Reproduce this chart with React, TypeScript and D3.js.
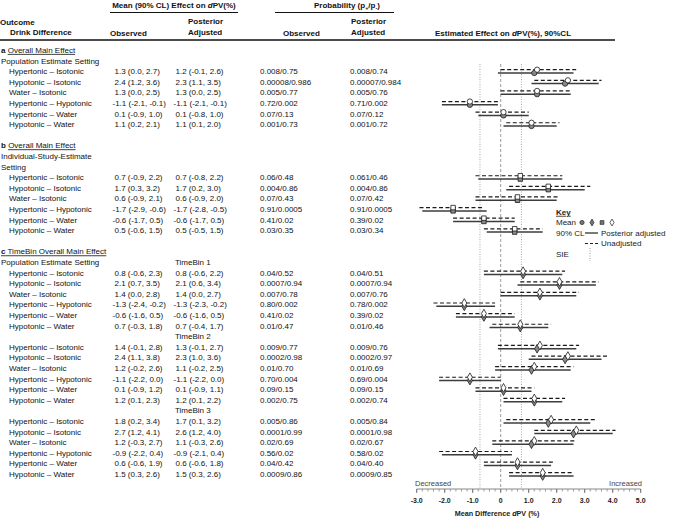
import React from "react";
import * as d3 from "d3";

const comparisons = [
  "Hypertonic – Isotonic",
  "Hypotonic – Isotonic",
  "Water – Isotonic",
  "Hypertonic – Hypotonic",
  "Hypertonic – Water",
  "Hypotonic – Water",
];

// [mean, lower 90% CL, upper 90% CL]
const aObserved = [[1.3, 0.0, 2.7], [2.4, 1.2, 3.6], [1.3, 0.0, 2.5], [-1.1, -2.1, -0.1], [0.1, -0.9, 1.0], [1.1, 0.2, 2.1]];
const aAdjusted = [[1.2, -0.1, 2.6], [2.3, 1.1, 3.5], [1.3, 0.0, 2.5], [-1.1, -2.1, -0.1], [0.1, -0.8, 1.0], [1.1, 0.1, 2.0]];
const aProbObserved = ["0.008/0.75", "0.00008/0.986", "0.005/0.77", "0.72/0.002", "0.07/0.13", "0.001/0.73"];
const aProbAdjusted = ["0.008/0.74", "0.00007/0.984", "0.005/0.76", "0.71/0.002", "0.07/0.12", "0.001/0.72"];

const bObserved = [[0.7, -0.9, 2.2], [1.7, 0.3, 3.2], [0.6, -0.9, 2.1], [-1.7, -2.9, -0.6], [-0.6, -1.7, 0.5], [0.5, -0.6, 1.5]];
const bAdjusted = [[0.7, -0.8, 2.2], [1.7, 0.2, 3.0], [0.6, -0.9, 2.0], [-1.7, -2.8, -0.5], [-0.6, -1.7, 0.5], [0.5, -0.5, 1.5]];
const bProbObserved = ["0.06/0.48", "0.004/0.86", "0.07/0.43", "0.91/0.0005", "0.41/0.02", "0.03/0.35"];
const bProbAdjusted = ["0.061/0.46", "0.004/0.86", "0.07/0.42", "0.91/0.0005", "0.39/0.02", "0.03/0.34"];

const tb1Observed = [[0.8, -0.6, 2.3], [2.1, 0.7, 3.5], [1.4, 0.0, 2.8], [-1.3, -2.4, -0.2], [-0.6, -1.6, 0.5], [0.7, -0.3, 1.8]];
const tb1Adjusted = [[0.8, -0.6, 2.2], [2.1, 0.6, 3.4], [1.4, 0.0, 2.7], [-1.3, -2.3, -0.2], [-0.6, -1.6, 0.5], [0.7, -0.4, 1.7]];
const tb1ProbObserved = ["0.04/0.52", "0.0007/0.94", "0.007/0.78", "0.80/0.002", "0.41/0.02", "0.01/0.47"];
const tb1ProbAdjusted = ["0.04/0.51", "0.0007/0.94", "0.007/0.76", "0.78/0.002", "0.39/0.02", "0.01/0.46"];

const tb2Observed = [[1.4, -0.1, 2.8], [2.4, 1.1, 3.8], [1.2, -0.2, 2.6], [-1.1, -2.2, 0.0], [0.1, -0.9, 1.2], [1.2, 0.1, 2.3]];
const tb2Adjusted = [[1.3, -0.1, 2.7], [2.3, 1.0, 3.6], [1.1, -0.2, 2.5], [-1.1, -2.2, 0.0], [0.1, -0.9, 1.1], [1.2, 0.1, 2.2]];
const tb2ProbObserved = ["0.009/0.77", "0.0002/0.98", "0.01/0.70", "0.70/0.004", "0.09/0.15", "0.002/0.75"];
const tb2ProbAdjusted = ["0.009/0.76", "0.0002/0.97", "0.01/0.69", "0.69/0.004", "0.09/0.15", "0.002/0.74"];

const tb3Observed = [[1.8, 0.2, 3.4], [2.7, 1.2, 4.1], [1.2, -0.3, 2.7], [-0.9, -2.2, 0.4], [0.6, -0.6, 1.9], [1.5, 0.3, 2.6]];
const tb3Adjusted = [[1.7, 0.1, 3.2], [2.6, 1.2, 4.0], [1.1, -0.3, 2.6], [-0.9, -2.1, 0.4], [0.6, -0.6, 1.8], [1.5, 0.3, 2.6]];
const tb3ProbObserved = ["0.005/0.86", "0.0001/0.99", "0.02/0.69", "0.56/0.02", "0.04/0.42", "0.0009/0.86"];
const tb3ProbAdjusted = ["0.005/0.84", "0.0001/0.98", "0.02/0.67", "0.58/0.02", "0.04/0.40", "0.0009/0.85"];

const sieValue = 0.74;
const tickValues = [-3, -2, -1, 0, 1, 2, 3, 4, 5];
const tickLabels = ["-3.0", "-2.0", "-1.0", "0", "1.0", "2.0", "3.0", "4.0", "5.0"];

const FONT = "'Liberation Sans', Arial, sans-serif";

const fmt = (v: number[]) => `${v[0].toFixed(1)} (${v[1].toFixed(1)}, ${v[2].toFixed(1)})`;

export default function App() {
  const yLine = d3.scaleLinear().domain([1, 41]).range([50.1, 474.3]);
  const x = d3.scaleLinear().domain([-3, 5]).range([416.7, 640.7]);
  const axisY = 489;
  const plotTop = 64;

  const sections = [
    { start: 3, obs: aObserved, adj: aAdjusted, pObs: aProbObserved, pAdj: aProbAdjusted, sym: d3.symbolCircle, size: 22 },
    { start: 13, obs: bObserved, adj: bAdjusted, pObs: bProbObserved, pAdj: bProbAdjusted, sym: d3.symbolSquare, size: 20 },
    { start: 22, obs: tb1Observed, adj: tb1Adjusted, pObs: tb1ProbObserved, pAdj: tb1ProbAdjusted, sym: d3.symbolDiamond, size: 22 },
    { start: 29, obs: tb2Observed, adj: tb2Adjusted, pObs: tb2ProbObserved, pAdj: tb2ProbAdjusted, sym: d3.symbolDiamond, size: 22 },
    { start: 36, obs: tb3Observed, adj: tb3Adjusted, pObs: tb3ProbObserved, pAdj: tb3ProbAdjusted, sym: d3.symbolDiamond, size: 22 },
  ];

  const minorTicks = d3.range(-3, 5.0001, 0.2);

  const textProps = { fontFamily: FONT, fontSize: 8, fill: "#111" } as any;

  return (
    <svg width={676} height={518} style={{ position: "absolute", left: 0, top: 0, background: "#fff" }}>
      {/* Header */}
      <g {...textProps} fontWeight="bold">
        <text x={174} y={8} textAnchor="middle">
          Mean (90% CL) Effect on <tspan fontStyle="italic">d</tspan>PV(%)
        </text>
        <line x1={110} x2={238} y1={12.5} y2={12.5} stroke="#111" strokeWidth={1} />
        <text x={347} y={8} textAnchor="middle">
          Probability (p<tspan fontSize={5.5} dy={1.5}>+</tspan>
          <tspan dy={-1.5}>/p</tspan>
          <tspan fontSize={5.5} dy={1.5}>-</tspan>
          <tspan dy={-1.5}>)</tspan>
        </text>
        <line x1={275} x2={394} y1={12.5} y2={12.5} stroke="#111" strokeWidth={1} />
        <text x={0} y={24.5}>Outcome</text>
        <text x={10} y={35}>Drink Difference</text>
        <text x={110} y={36}>Observed</text>
        <text x={188} y={24}>Posterior</text>
        <text x={188} y={35}>Adjusted</text>
        <text x={283} y={36}>Observed</text>
        <text x={351} y={24}>Posterior</text>
        <text x={351} y={35}>Adjusted</text>
        <text x={435} y={35.5}>
          Estimated Effect on <tspan fontStyle="italic">d</tspan>PV(%), 90%CL
        </text>
      </g>
      <line x1={0} x2={615} y1={40} y2={40} stroke="#111" strokeWidth={1.6} />

      {/* Section labels */}
      <g {...textProps}>
        <text x={1} y={yLine(1)} dy="0.35em">
          <tspan fontWeight="bold">a</tspan> <tspan style={{ textDecoration: "underline" }}>Overall Main Effect</tspan>
        </text>
        <text x={1} y={yLine(2)} dy="0.35em">Population  Estimate Setting</text>
        <text x={1} y={yLine(10)} dy="0.35em">
          <tspan fontWeight="bold">b</tspan> <tspan style={{ textDecoration: "underline" }}>Overall Main Effect</tspan>
        </text>
        <text x={1} y={yLine(11)} dy="0.35em">Individual-Study-Estimate</text>
        <text x={1} y={yLine(12)} dy="0.35em">Setting</text>
        <text x={1} y={yLine(20)} dy="0.35em" style={{ textDecoration: "underline" }}>
          <tspan fontWeight="bold">c</tspan> TimeBin Overall Main Effect
        </text>
        <text x={1} y={yLine(21)} dy="0.35em">Population  Estimate Setting</text>
        <text x={175} y={yLine(21)} dy="0.35em">TimeBin 1</text>
        <text x={175} y={yLine(28)} dy="0.35em">TimeBin 2</text>
        <text x={175} y={yLine(35)} dy="0.35em">TimeBin 3</text>
      </g>

      {/* Table rows */}
      <g {...textProps}>
        {sections.map((s, si) =>
          comparisons.map((c, i) => {
            const y = yLine(s.start + i);
            return (
              <g key={`r${si}-${i}`}>
                <text x={9} y={y} dy="0.35em">{c}</text>
                <text x={s.obs[i][0] < 0 ? 112.5 : 114.5} y={y} dy="0.35em">{fmt(s.obs[i])}</text>
                <text x={s.adj[i][0] < 0 ? 173.5 : 175.5} y={y} dy="0.35em">{fmt(s.adj[i])}</text>
                <text x={260} y={y} dy="0.35em">{s.pObs[i]}</text>
                <text x={350} y={y} dy="0.35em">{s.pAdj[i]}</text>
              </g>
            );
          })
        )}
      </g>

      {/* Reference lines */}
      <line x1={x(0)} x2={x(0)} y1={plotTop} y2={axisY} stroke="#9a9a9a" strokeWidth={1} strokeDasharray="3,2" />
      <line x1={x(-sieValue)} x2={x(-sieValue)} y1={plotTop} y2={axisY} stroke="#a8a8a8" strokeWidth={1} strokeDasharray="1,1.5" />
      <line x1={x(sieValue)} x2={x(sieValue)} y1={plotTop} y2={axisY} stroke="#a8a8a8" strokeWidth={1} strokeDasharray="1,1.5" />

      {/* Forest plot */}
      {sections.map((s, si) =>
        comparisons.map((c, i) => {
          const y = yLine(s.start + i);
          const yd = y - 1.6;
          const ys = y + 1.7;
          const path = d3.symbol().type(s.sym).size(s.size)() as string;
          return (
            <g key={`f${si}-${i}`}>
              <line x1={x(s.obs[i][1])} x2={x(s.obs[i][2])} y1={yd} y2={yd} stroke="#1a1a1a" strokeWidth={1.2} strokeDasharray="4,2.5" />
              <line x1={x(s.adj[i][1])} x2={x(s.adj[i][2])} y1={ys} y2={ys} stroke="#3c3c3c" strokeWidth={1.5} />
              <path d={path} transform={`translate(${x(s.adj[i][0])},${ys})`} fill="#8a8a8a" stroke="#1a1a1a" strokeWidth={0.8} />
              <path d={path} transform={`translate(${x(s.obs[i][0])},${yd})`} fill="#fff" stroke="#1a1a1a" strokeWidth={0.8} />
            </g>
          );
        })
      )}

      {/* Key */}
      <g fontFamily={FONT} fontSize={8} fill="#222">
        <text x={556} y={212} dy="0.35em" fontWeight="bold" style={{ textDecoration: "underline" }}>Key</text>
        <text x={556} y={222.5} dy="0.35em">Mean</text>
        {[d3.symbolCircle, d3.symbolDiamond, d3.symbolSquare, d3.symbolDiamond].map((t, k) => (
          <path key={k} d={d3.symbol().type(t).size(14)() as string} transform={`translate(${582 + k * 10},222.5)`}
            fill={k === 3 ? "#fff" : "#777"} stroke="#222" strokeWidth={0.7} />
        ))}
        <text x={556} y={233} dy="0.35em">90% CL</text>
        <line x1={585} x2={598} y1={233} y2={233} stroke="#222" strokeWidth={1.2} />
        <text x={601} y={233} dy="0.35em">Posterior adjusted</text>
        <line x1={585} x2={598} y1={243.5} y2={243.5} stroke="#222" strokeWidth={1.1} strokeDasharray="3,2" />
        <text x={601} y={243.5} dy="0.35em">Unadjusted</text>
        <text x={556} y={254.5} dy="0.35em">SIE</text>
        <line x1={590} x2={590} y1={248} y2={261} stroke="#999" strokeWidth={1} strokeDasharray="1,1.5" />
      </g>

      {/* Axis */}
      <text x={415} y={483} dy="0.35em" fontFamily={FONT} fontSize={7.5} fill="#444">Decreased</text>
      <text x={642} y={483} dy="0.35em" textAnchor="end" fontFamily={FONT} fontSize={7.5} fill="#444">Increased</text>
      <line x1={x(-3)} x2={x(5)} y1={axisY} y2={axisY} stroke="#888" strokeWidth={1} />
      {minorTicks.map((t, k) => (
        <line key={`mt${k}`} x1={x(t)} x2={x(t)} y1={axisY} y2={axisY + 2.5} stroke="#888" strokeWidth={0.8} />
      ))}
      {tickValues.map((t, k) => (
        <g key={`t${k}`}>
          <line x1={x(t)} x2={x(t)} y1={axisY} y2={axisY + 4} stroke="#777" strokeWidth={1} />
          <text x={x(t)} y={500.5} dy="0.35em" textAnchor="middle" fontFamily={FONT} fontSize={7} fontWeight="bold" fill="#222">
            {tickLabels[k]}
          </text>
        </g>
      ))}
      <text x={497} y={513.5} dy="0.35em" textAnchor="middle" fontFamily={FONT} fontSize={7.2} fontWeight="bold" fill="#222">
        Mean Difference <tspan fontStyle="italic">d</tspan>PV (%)
      </text>
    </svg>
  );
}
